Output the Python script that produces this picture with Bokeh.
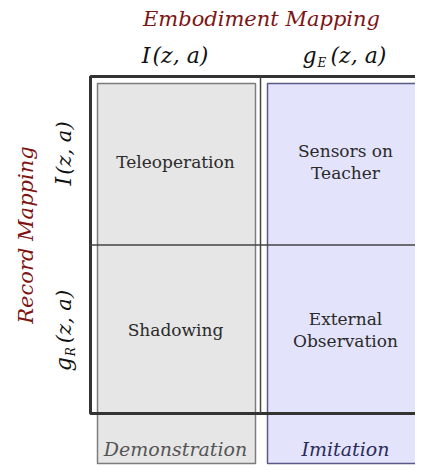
import math
from bokeh.plotting import figure
from bokeh.models import Range1d
from bokeh.core.properties import value
from bokeh.embed import file_html
from bokeh.resources import INLINE

# ---- content ----
embodiment_title = "Embodiment Mapping"
record_title = "Record Mapping"
col_func = ["I", "g"]
col_sub = ["", "E"]
row_func = ["I", "g"]
row_sub = ["", "R"]
func_args = "(z, a)"
cells = [["Teleoperation", "Sensors on\nTeacher"],
         ["Shadowing", "External\nObservation"]]
col_footer = ["Demonstration", "Imitation"]

# ---- styling / layout ----
SERIF = value("DejaVu Serif")
RED = "#7d1414"
FX0, FY0 = 90, 76          # frame origin (px)
COL_W, ROW_H = 170, 168.5  # grid cell size
FOOT_B = 463               # bottom of column boxes
box_fill = ["#e6e6e6", "#e3e3fb"]
box_line = ["#7c7c7c", "#5a5a86"]
foot_color = ["#555555", "#2c2c5c"]

p = figure(width=415, height=465, output_backend="svg", toolbar_location=None,
           x_range=Range1d(0, 415), y_range=Range1d(465, 0),
           min_border=0, outline_line_color=None)
p.axis.visible = False
p.grid.visible = False
p.background_fill_color = "white"

ncol, nrow = len(col_func), len(row_func)
col_cx = [FX0 + (i + 0.5) * COL_W for i in range(ncol)]
row_cy = [FY0 + (j + 0.5) * ROW_H for j in range(nrow)]
frame_r = FX0 + ncol * COL_W
frame_b = FY0 + nrow * ROW_H

# column boxes (each spans grid and footer)
p.quad(left=[FX0 + i * COL_W + 7 for i in range(ncol)],
       right=[FX0 + (i + 1) * COL_W - 5 for i in range(ncol)],
       top=[FY0 + 7] * ncol, bottom=[FOOT_B] * ncol,
       fill_color=box_fill, line_color=box_line, line_width=1.5)

# thick frame
p.quad(left=[FX0], right=[frame_r + 20], top=[FY0], bottom=[frame_b],
       fill_color=None, line_color="#333333", line_width=3)
# dividers
p.segment(x0=[FX0 + COL_W], x1=[FX0 + COL_W], y0=[FY0], y1=[frame_b],
          line_color="#444444", line_width=1.5)
p.segment(x0=[FX0], x1=[frame_r + 20], y0=[FY0 + ROW_H], y1=[FY0 + ROW_H],
          line_color="#444444", line_width=1.5)

# titles
p.text(x=[sum(col_cx) / ncol + 1], y=[18], text=[embodiment_title],
       text_font=SERIF, text_font_style="italic", text_font_size="21px",
       text_color=RED, text_align="center", text_baseline="middle")
p.text(x=[25], y=[(FY0 + frame_b) / 2 - 10], text=[record_title], angle=math.pi / 2,
       text_font=SERIF, text_font_style="italic", text_font_size="21px",
       text_color=RED, text_align="center", text_baseline="middle")

# column headers
for i in range(ncol):
    cx = col_cx[i]
    has_sub = bool(col_sub[i])
    fx = cx - (29 if has_sub else 25)
    ax = cx - (15 if has_sub else 23)
    p.text(x=[fx], y=[55], text=[col_func[i]], text_font=SERIF,
           text_font_style="italic", text_font_size="22px", text_color="#111111",
           text_align="right", text_baseline="middle")
    if has_sub:
        p.text(x=[fx + 1], y=[62], text=[col_sub[i]], text_font=SERIF,
               text_font_style="italic", text_font_size="12px", text_color="#111111",
               text_align="left", text_baseline="middle")
    p.text(x=[ax], y=[55], text=[func_args], text_font=SERIF,
           text_font_style="italic", text_font_size="22px", text_color="#111111",
           text_align="left", text_baseline="middle")

# row headers (rotated)
for j in range(nrow):
    cy = row_cy[j]
    has_sub = bool(row_sub[j])
    fy = cy + (28 if has_sub else 16)
    ay = cy + (14 if has_sub else 14)
    p.text(x=[63], y=[fy], text=[row_func[j]], angle=math.pi / 2, text_font=SERIF,
           text_font_style="italic", text_font_size="22px", text_color="#111111",
           text_align="right", text_baseline="middle")
    if has_sub:
        p.text(x=[70], y=[fy - 1], text=[row_sub[j]], angle=math.pi / 2, text_font=SERIF,
               text_font_style="italic", text_font_size="12px", text_color="#111111",
               text_align="left", text_baseline="middle")
    p.text(x=[63], y=[ay], text=[func_args], angle=math.pi / 2, text_font=SERIF,
           text_font_style="italic", text_font_size="21px", text_color="#111111",
           text_align="left", text_baseline="middle")

# cell labels
xs, ys, ts = [], [], []
for j in range(nrow):
    for i in range(ncol):
        xs.append(col_cx[i])
        ys.append(row_cy[j] + 1)
        ts.append(cells[j][i])
p.text(x=xs, y=ys, text=ts, text_font=SERIF, text_font_size="17px",
       text_color="#2a2a2a", text_align="center", text_baseline="middle",
       text_line_height=1.12)

# footers
p.text(x=col_cx, y=[448] * ncol, text=col_footer,
       text_font=SERIF, text_font_style="italic", text_font_size="19px",
       text_color=foot_color, text_align="center", text_baseline="middle")

open("out.html", "w").write(file_html(p, INLINE))
